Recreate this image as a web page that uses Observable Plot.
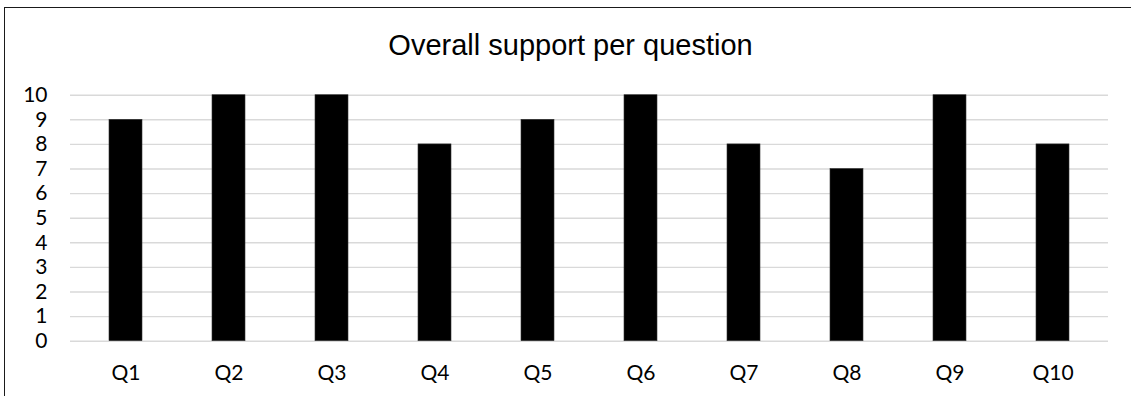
<!DOCTYPE html>
<html>
<head>
<meta charset="utf-8">
<script src="https://cdn.jsdelivr.net/npm/d3@7"></script>
<script src="https://cdn.jsdelivr.net/npm/@observablehq/plot@0.6"></script>
<style>
  html, body { margin: 0; padding: 0; background: #fff; }
  #frame {
    position: relative;
    width: 1131px;
    height: 396px;
    overflow: hidden;
    background: #fff;
  }
  #border {
    position: absolute;
    left: 4px;
    top: 7px;
    width: 1300px;
    height: 600px;
    border-left: 1.5px solid #1a1a1a;
    border-top: 1.5px solid #1a1a1a;
    pointer-events: none;
  }
  #title {
    position: absolute;
    left: 0;
    width: 1141px;
    top: 31px;
    text-align: center;
    font-family: "Liberation Sans", Arial, sans-serif;
    font-size: 29px;
    line-height: 29px;
    color: #000;
  }
  #chart {
    position: absolute;
    left: 0;
    top: 70px;
  }
</style>
</head>
<body>
<div id="frame">
  <div id="title">Overall support per question</div>
  <div id="chart"></div>
  <div id="border"></div>
</div>
<script>
// Number of supporters for each question
const questions = ["Q1", "Q2", "Q3", "Q4", "Q5", "Q6", "Q7", "Q8", "Q9", "Q10"];
const support = [9, 10, 10, 8, 9, 10, 8, 7, 10, 8];
const yTicks = [0, 1, 2, 3, 4, 5, 6, 7, 8, 9, 10];

const rows = questions.map((q, i) => ({question: q, value: support[i]}));

const chart = Plot.plot({
  width: 1131,
  height: 326,
  marginTop: 24.7,
  marginBottom: 55.3,
  marginLeft: 70,
  marginRight: 23,
  style: {
    fontFamily: "Lato, 'Open Sans', sans-serif",
    fontSize: "21px",
    color: "#000",
    background: "transparent"
  },
  x: {
    domain: questions,
    paddingInner: 0.68,
    paddingOuter: 0.34,
    label: null
  },
  y: {
    domain: [0, 10],
    ticks: yTicks,
    label: null
  },
  marks: [
    Plot.ruleY(yTicks, {stroke: "#d9d9d9", strokeWidth: 1.4}),
    Plot.barY(rows, {x: "question", y: "value", fill: "#000", stroke: "#333", strokeWidth: 0.6}),
    Plot.axisX({tickSize: 0, tickPadding: 24, label: null, fontSize: 21}),
    Plot.axisY({ticks: yTicks, tickSize: 0, tickPadding: 23, label: null, tickFormat: d => String(d), fontSize: 21})
  ]
});

document.getElementById("chart").appendChild(chart);
</script>
</body>
</html>
